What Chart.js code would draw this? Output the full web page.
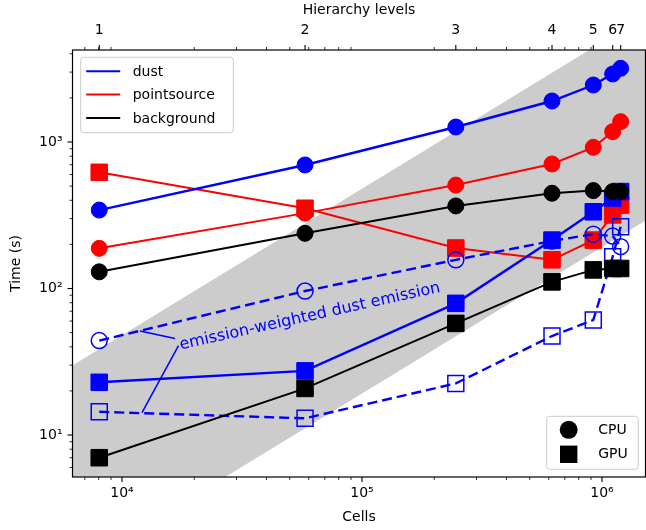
<!DOCTYPE html>
<html lang="en">
<head>
<meta charset="UTF-8">
<title>Run time vs cells</title>
<script src="https://cdn.jsdelivr.net/npm/chart.js"></script>
<style>
  html, body { margin: 0; padding: 0; background: #fff; }
  canvas { display: block; }
</style>
</head>
<body>
<canvas id="timing" width="646" height="530"></canvas>
<script>
// number of cells at each hierarchy level
const cells = [8040, 57900, 246000, 619000, 920000, 1108000, 1196000];
const levelLabels = ['1', '2', '3', '4', '5', '6', '7'];

// run times (s), filled markers: CPU = circles, GPU = squares
const dustCpu = [343, 697, 1266, 1905, 2449, 2912, 3185];
const pointCpu = [188, 327, 508, 708, 920, 1176, 1377];
const backgroundCpu = [130, 238, 366, 447, 466, 459, 459];
const dustGpu = [22.9, 27.4, 79.2, 214, 334, 415, 459];
const pointGpu = [621, 353, 189, 157, 214, 318, 371];
const backgroundGpu = [7.0, 20.8, 57.8, 111, 134, 137, 137];

// emission-weighted dust emission (open markers, dashed)
const dustEmCpu = [44.1, 96.1, 157, 211, 235, 228, 193];
const dustEmGpu = [14.4, 13.0, 22.5, 47.4, 61, 165, 264];

// linear-scaling band: time at 1e3 and 1e7 cells
const bandCells = [1e3, 1e7];
const bandLow = [0.192, 1919];
const bandHigh = [4.8, 47970];

const xMin = 6220, xMax = 1.518e6;
const yMin = 5.17, yMax = 4246;

const FONT = 'DejaVu Sans';
const BLUE = '#0000ff', RED = '#ff0000', BLACK = '#000000';

function pts(values) {
  return cells.map((c, i) => ({ x: c, y: values[i] }));
}

function logTicks(min, max) {
  const out = [];
  for (let e = Math.floor(Math.log10(min)); e <= Math.ceil(Math.log10(max)); e++) {
    for (let m = 1; m <= 9; m++) {
      const v = m * Math.pow(10, e);
      if (v >= min && v <= max) out.push(v);
    }
  }
  return out;
}

function isDecade(v) {
  const l = Math.log10(v);
  return Math.abs(l - Math.round(l)) < 1e-9;
}

const SUP = { '0': '⁰', '1': '¹', '2': '²', '3': '³', '4': '⁴', '5': '⁵', '6': '⁶', '7': '⁷', '8': '⁸', '9': '⁹', '-': '⁻' };
function decadeLabel(v) {
  if (!isDecade(v)) return '';
  return '10' + String(Math.round(Math.log10(v))).split('').map(ch => SUP[ch]).join('');
}

const xTickValues = logTicks(xMin, xMax);
const yTickValues = logTicks(yMin, yMax);

function filled(label, values, color, style, width) {
  const square = style === 'rect';
  return {
    label: label,
    data: pts(values),
    borderColor: color,
    backgroundColor: color,
    borderWidth: width,
    pointStyle: style,
    pointRadius: square ? 11.7 : 8,
    pointBorderWidth: 1,
    pointBackgroundColor: color,
    pointBorderColor: color
  };
}

function open(label, values, style) {
  const square = style === 'rect';
  return {
    label: label,
    data: pts(values),
    borderColor: BLUE,
    backgroundColor: BLUE,
    borderWidth: 2.4,
    borderDash: [10, 5],
    pointStyle: style,
    pointRadius: square ? 11.3 : 8,
    pointBorderWidth: 1.5,
    pointBackgroundColor: 'rgba(0,0,0,0)',
    pointBorderColor: BLUE
  };
}

// first dataset is drawn on top
const datasets = [
  filled('background GPU', backgroundGpu, BLACK, 'rect', 2),
  filled('background CPU', backgroundCpu, BLACK, 'circle', 2),
  filled('dust GPU', dustGpu, BLUE, 'rect', 2.4),
  filled('dust CPU', dustCpu, BLUE, 'circle', 2.4),
  open('dust emission GPU', dustEmGpu, 'rect'),
  open('dust emission CPU', dustEmCpu, 'circle'),
  filled('pointsource GPU', pointGpu, RED, 'rect', 2),
  filled('pointsource CPU', pointCpu, RED, 'circle', 2),
  {
    label: 'band high',
    data: bandCells.map((c, i) => ({ x: c, y: bandHigh[i] })),
    borderWidth: 0,
    borderColor: 'rgba(0,0,0,0)',
    pointRadius: 0,
    backgroundColor: '#cccccc',
    fill: '+1'
  },
  {
    label: 'band low',
    data: bandCells.map((c, i) => ({ x: c, y: bandLow[i] })),
    borderWidth: 0,
    borderColor: 'rgba(0,0,0,0)',
    pointRadius: 0,
    fill: false
  }
];

// annotation text and its two pointer lines, in data coordinates
const noteText = 'emission-weighted dust emission';
const noteAt = [60700, 64.4];
const noteAngle = -12.5;
const noteLines = [
  [[16630, 45.6], [11885, 51.3]],
  [[17200, 40.8], [12115, 14.2]]
];

function roundRect(ctx, x, y, w, h, r) {
  ctx.beginPath();
  ctx.moveTo(x + r, y);
  ctx.arcTo(x + w, y, x + w, y + h, r);
  ctx.arcTo(x + w, y + h, x, y + h, r);
  ctx.arcTo(x, y + h, x, y, r);
  ctx.arcTo(x, y, x + w, y, r);
  ctx.closePath();
}

function legendBox(ctx, x, y, w, h) {
  roundRect(ctx, x, y, w, h, 3);
  ctx.fillStyle = 'rgba(255,255,255,0.8)';
  ctx.fill();
  ctx.strokeStyle = '#cccccc';
  ctx.lineWidth = 1;
  ctx.stroke();
}

// keep the plot area where the axes boxes put it
function noSidePad(s) {
  s.paddingLeft = 0;
  s.paddingRight = 0;
  s.paddingTop = 0;
  s.paddingBottom = 0;
}

const decorations = {
  id: 'decorations',
  afterDatasetsDraw(chart) {
    const { ctx, scales } = chart;
    const x = scales.x, y = scales.y;
    ctx.save();
    // annotation pointers
    ctx.strokeStyle = BLUE;
    ctx.lineWidth = 1.5;
    noteLines.forEach(([p, q]) => {
      ctx.beginPath();
      ctx.moveTo(x.getPixelForValue(p[0]), y.getPixelForValue(p[1]));
      ctx.lineTo(x.getPixelForValue(q[0]), y.getPixelForValue(q[1]));
      ctx.stroke();
    });
    ctx.translate(x.getPixelForValue(noteAt[0]), y.getPixelForValue(noteAt[1]));
    ctx.rotate(noteAngle * Math.PI / 180);
    ctx.font = '16px "' + FONT + '"';
    ctx.fillStyle = BLUE;
    ctx.textAlign = 'center';
    ctx.textBaseline = 'middle';
    ctx.fillText(noteText, 0, 0);
    ctx.restore();
  },
  afterDraw(chart) {
    const { ctx, chartArea: a, scales } = chart;
    const x = scales.x, y = scales.y;
    ctx.save();
    ctx.strokeStyle = BLACK;

    // tick marks, pointing outward
    xTickValues.forEach(v => {
      const px = x.getPixelForValue(v);
      const major = isDecade(v);
      ctx.lineWidth = major ? 1.1 : 0.8;
      ctx.beginPath();
      ctx.moveTo(px, a.bottom);
      ctx.lineTo(px, a.bottom + (major ? 5 : 3));
      ctx.stroke();
      if (!major) {
        ctx.beginPath();
        ctx.moveTo(px, a.top);
        ctx.lineTo(px, a.top - 3);
        ctx.stroke();
      }
    });
    cells.forEach(v => {
      const px = x.getPixelForValue(v);
      ctx.lineWidth = 1.1;
      ctx.beginPath();
      ctx.moveTo(px, a.top);
      ctx.lineTo(px, a.top - 5);
      ctx.stroke();
    });
    yTickValues.forEach(v => {
      const py = y.getPixelForValue(v);
      const major = isDecade(v);
      ctx.lineWidth = major ? 1.1 : 0.8;
      ctx.beginPath();
      ctx.moveTo(a.left, py);
      ctx.lineTo(a.left - (major ? 5 : 3), py);
      ctx.stroke();
    });

    // axes frame
    ctx.lineWidth = 1.2;
    ctx.strokeRect(a.left, a.top, a.right - a.left, a.bottom - a.top);

    ctx.font = '14px "' + FONT + '"';
    ctx.textBaseline = 'middle';
    ctx.textAlign = 'left';

    // component legend
    const lx = a.left + 8.2, ly = a.top + 7.3;
    legendBox(ctx, lx, ly, 152.6, 75.4);
    [['dust', BLUE], ['pointsource', RED], ['background', BLACK]].forEach(([name, col], i) => {
      const ry = ly + 14 + i * 23.3;
      ctx.strokeStyle = col;
      ctx.lineWidth = 2;
      ctx.beginPath();
      ctx.moveTo(lx + 5.5, ry);
      ctx.lineTo(lx + 39.5, ry);
      ctx.stroke();
      ctx.fillStyle = BLACK;
      ctx.fillText(name, lx + 52, ry + 1);
    });

    // hardware legend
    const bw = 91.6, bh = 53;
    const bx = a.right - 7.2 - bw, by = a.bottom - 7.7 - bh;
    legendBox(ctx, bx, by, bw, bh);
    ctx.fillStyle = BLACK;
    ctx.beginPath();
    ctx.arc(bx + 22, by + 13.5, 9, 0, Math.PI * 2);
    ctx.fill();
    ctx.fillRect(bx + 22 - 8.7, by + 38 - 8.7, 17.4, 17.4);
    ctx.fillText('CPU', bx + 51.5, by + 14.5);
    ctx.fillText('GPU', bx + 51.5, by + 38.5);
    ctx.restore();
  }
};

const tickFont = { family: FONT, size: 14 };
const titleFont = { family: FONT, size: 14 };

new Chart(document.getElementById('timing').getContext('2d'), {
  type: 'line',
  data: { datasets: datasets },
  options: {
    responsive: false,
    devicePixelRatio: 1,
    animation: false,
    events: [],
    layout: { autoPadding: false, padding: { left: 0, right: 0.5, top: 0, bottom: 0 } },
    plugins: { legend: { display: false }, tooltip: { enabled: false } },
    scales: {
      x: {
        type: 'logarithmic',
        position: 'bottom',
        min: xMin,
        max: xMax,
        bounds: 'data',
        grid: { display: false, drawTicks: false },
        border: { display: false },
        afterBuildTicks: s => { s.ticks = xTickValues.map(v => ({ value: v })); },
        afterFit: s => { s.height = 53; noSidePad(s); },
        ticks: {
          autoSkip: false,
          maxRotation: 0,
          padding: 7.5,
          color: BLACK,
          font: tickFont,
          callback: v => decadeLabel(v)
        },
        title: { display: true, text: 'Cells', color: BLACK, font: titleFont, padding: { top: 0, bottom: 4.6 } }
      },
      x2: {
        type: 'logarithmic',
        position: 'top',
        min: xMin,
        max: xMax,
        bounds: 'data',
        grid: { display: false, drawTicks: false },
        border: { display: false },
        afterBuildTicks: s => { s.ticks = cells.map(v => ({ value: v })); },
        afterFit: s => { s.height = 50; noSidePad(s); },
        ticks: {
          autoSkip: false,
          maxRotation: 0,
          padding: 11,
          color: BLACK,
          font: tickFont,
          callback: (v, i) => levelLabels[i]
        },
        title: { display: true, text: 'Hierarchy levels', color: BLACK, font: titleFont, padding: { top: 1.5, bottom: 0 } }
      },
      y: {
        type: 'logarithmic',
        position: 'left',
        min: yMin,
        max: yMax,
        bounds: 'data',
        grid: { display: false, drawTicks: false },
        border: { display: false },
        afterBuildTicks: s => { s.ticks = yTickValues.map(v => ({ value: v })); },
        afterFit: s => { s.width = 72.5; noSidePad(s); },
        ticks: {
          autoSkip: false,
          padding: 10,
          color: BLACK,
          font: tickFont,
          callback: v => decadeLabel(v)
        },
        title: { display: true, text: 'Time (s)', color: BLACK, font: titleFont, padding: { top: 8, bottom: 0 } }
      }
    }
  },
  plugins: [decorations]
});
</script>
</body>
</html>
